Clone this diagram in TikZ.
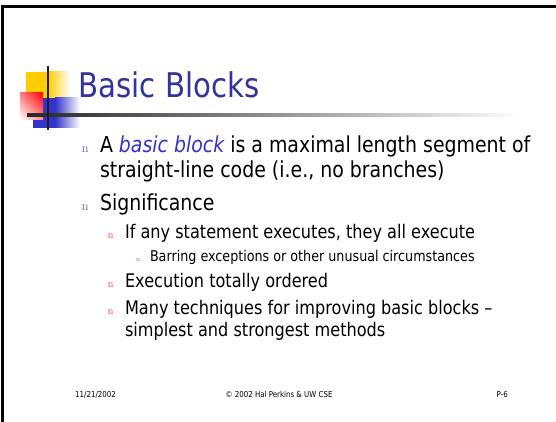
\documentclass[tikz,border=0pt]{standalone}
\usepackage{fontspec}
\usetikzlibrary{shadings}
\newfontfamily\tah{DejaVu Sans}[FakeStretch=0.86]
\definecolor{titleblue}{HTML}{333399}
\definecolor{itblue}{HTML}{3333CC}
\definecolor{bulblue}{HTML}{6666CC}
\definecolor{bulred}{HTML}{FF4040}
\definecolor{logoyellow}{HTML}{FFCC00}
\definecolor{logoblue}{HTML}{3333CC}
\tikzset{
  txt/.style={anchor=base west, inner sep=0pt, outer sep=0pt},
  lone/.style={txt, font=\tah\fontsize{22}{26}\selectfont},
  ltwo/.style={txt, font=\tah\fontsize{18.75}{22}\selectfont},
  lthree/.style={txt, font=\tah\fontsize{14.8}{18}\selectfont},
  bone/.style={txt, text=bulblue, font=\fontsize{13}{15}\selectfont},
  btwo/.style={txt, text=bulred, font=\fontsize{11}{13}\selectfont},
  bthree/.style={txt, text=bulblue, font=\fontsize{6.5}{8}\selectfont},
  foot/.style={anchor=base, inner sep=0pt, font=\tah\fontsize{8.2}{10}\selectfont},
}
\begin{document}
\begin{tikzpicture}[x=1pt,y=-1pt]
\useasboundingbox (0,0) rectangle (556,422);
\fill[white] (0,0) rectangle (556,422);
% border
\draw[line width=3pt] (2.5,422) -- (2.5,6.5) -- (556,6.5);
% logo
\fill[logoyellow] (26,72) rectangle (48,98);
\shade[left color=logoyellow, right color=white] (48,72) rectangle (70,98);
\fill[logoblue] (33,98) rectangle (55,128);
\shade[left color=logoblue, right color=white] (55,98) rectangle (80,128);
\shade[upper right=red, upper left=red!50, lower right=red!45, lower left=white] (20,93) rectangle (43,120);
\shade[left color=black!85, right color=white] (27,113.7) rectangle (522,116.4);
\draw[line width=2.3pt, black!88] (48,66) -- (48,130);
% title
\node[txt, text=titleblue, font=\tah\fontsize{34}{40}\selectfont] (title) at (78.5,98) {Basic Blocks};
% level 1
\node[bone] (b1) at (81.5,153) {n};
\node[lone] (l1a) at (100,153) {A \textcolor{itblue}{\itshape basic block} is a maximal length segment of};
\node[lone] (l1b) at (100,177) {straight-line code (i.e., no branches)};
\node[bone] (b2) at (81.5,210) {n};
\node[lone] (l2) at (100,210) {Significance};
% level 2
\node[btwo] (b3) at (107.5,238) {n};
\node[ltwo] (l3) at (125,238) {If any statement executes, they all execute};
\node[bthree] (b4) at (136,261) {n};
\node[lthree] (l4) at (150,261) {Barring exceptions or other unusual circumstances};
\node[btwo] (b5) at (107.5,287) {n};
\node[ltwo] (l5) at (125,287) {Execution totally ordered};
\node[btwo] (b6) at (107.5,314) {n};
\node[ltwo] (l6a) at (125,314) {Many techniques for improving basic blocks –};
\node[ltwo] (l6b) at (125,336) {simplest and strongest methods};
% footer
\node[foot, anchor=base west] (f1) at (75,397) {11/21/2002};
\node[foot] (f2) at (279,397) {© 2002 Hal Perkins \& UW CSE};
\node[foot, anchor=base east] (f3) at (508,397) {P-6};
\end{tikzpicture}
\end{document}
